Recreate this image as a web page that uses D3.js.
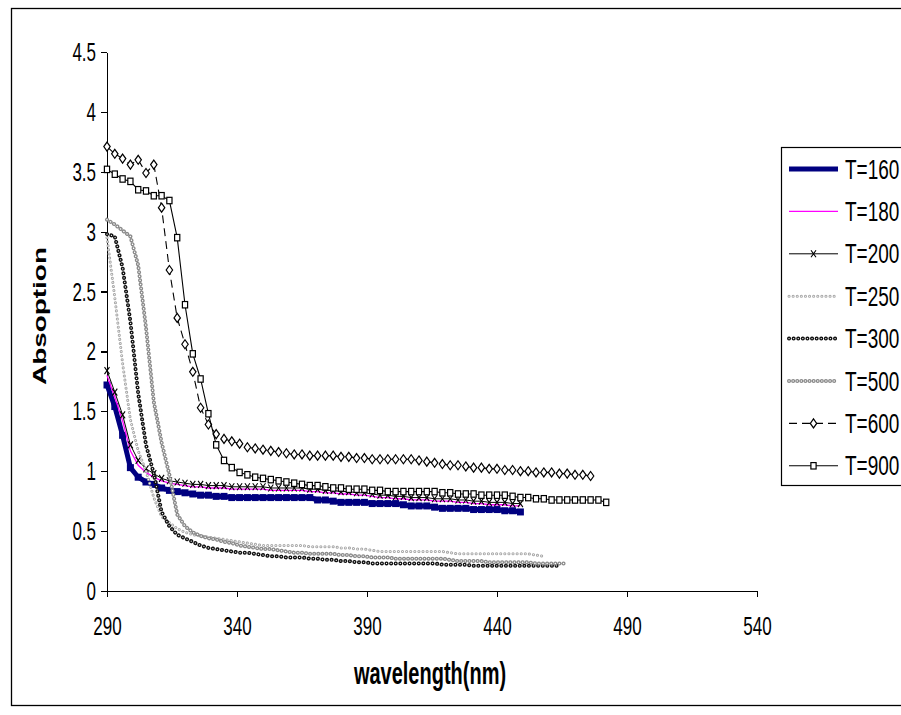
<!DOCTYPE html>
<html>
<head>
<meta charset="utf-8">
<script src="https://cdn.jsdelivr.net/npm/d3@7"></script>
<style>
body { margin: 0; background: #fff; }
text { font-family: "Liberation Sans", Arial, sans-serif; fill: #000; }
</style>
</head>
<body>
<script>
// wavelength grid (nm) and absorption
const wavelength = [290,293,296,299,302,305,308,311,314,317,320,323,326,329,332,335,338,341,344,347,
    350,353,356,359,362,365,368,371,374,377,380,383,386,389,392,395,398,401,404,407,
    410,413,416,419,422,425,428,431,434,437,440,443,446,449,452,455,458,461,464,467,
    470,473,476,479,482]

const absT160 = [1.72,1.54,1.30,1.03,0.95,0.91,0.89,0.86,0.84,0.83,0.82,0.81,0.80,0.80,0.79,0.79,0.78,0.78,0.78,0.78,
    0.78,0.78,0.78,0.78,0.78,0.78,0.78,0.76,0.76,0.75,0.74,0.74,0.74,0.74,0.73,0.73,0.73,0.73,0.72,0.71,
    0.71,0.71,0.70,0.69,0.69,0.69,0.69,0.68,0.68,0.68,0.68,0.67,0.67,0.66]
const absT180 = [1.80,1.62,1.42,1.17,1.05,0.99,0.95,0.92,0.90,0.89,0.88,0.87,0.87,0.86,0.86,0.86,0.85,0.85,0.85,0.85,
    0.85,0.84,0.84,0.84,0.84,0.84,0.83,0.83,0.82,0.82,0.81,0.81,0.80,0.80,0.79,0.78,0.78,0.77,0.77,0.76,
    0.76,0.76,0.75,0.75,0.75,0.74,0.74,0.73,0.73,0.72,0.72,0.72,0.71,0.71]
const absT200 = [1.84,1.66,1.47,1.22,1.09,1.02,0.98,0.94,0.92,0.91,0.90,0.89,0.89,0.88,0.88,0.88,0.87,0.87,0.87,0.87,
    0.87,0.86,0.86,0.86,0.86,0.86,0.85,0.85,0.84,0.84,0.83,0.83,0.82,0.82,0.81,0.80,0.80,0.79,0.79,0.78,
    0.78,0.78,0.77,0.77,0.77,0.76,0.76,0.75,0.75,0.74,0.74,0.74,0.73,0.73]
const absT250 = [2.95,2.45,1.90,1.43,1.17,1.00,0.78,0.62,0.57,0.52,0.49,0.47,0.46,0.45,0.44,0.43,0.42,0.41,0.40,0.39,
    0.38,0.38,0.38,0.38,0.38,0.38,0.37,0.37,0.37,0.37,0.36,0.36,0.35,0.35,0.34,0.33,0.33,0.33,0.33,0.33,
    0.33,0.33,0.33,0.33,0.32,0.31,0.31,0.31,0.31,0.31,0.31,0.31,0.31,0.31,0.31,0.30,0.29]
const absT300 = [2.98,2.96,2.70,2.25,1.65,1.22,0.98,0.66,0.54,0.47,0.44,0.41,0.38,0.36,0.35,0.34,0.33,0.32,0.32,0.31,
    0.30,0.29,0.29,0.28,0.28,0.28,0.27,0.27,0.26,0.26,0.25,0.25,0.24,0.24,0.23,0.23,0.23,0.23,0.23,0.23,
    0.23,0.23,0.23,0.22,0.22,0.22,0.22,0.21,0.21,0.21,0.21,0.21,0.21,0.21,0.21,0.21,0.21,0.21,0.21]
const absT500 = [3.10,3.06,3.01,2.96,2.72,2.20,1.58,1.24,0.97,0.64,0.54,0.49,0.46,0.44,0.43,0.41,0.40,0.38,0.37,0.36,
    0.35,0.35,0.34,0.33,0.32,0.32,0.31,0.31,0.31,0.31,0.30,0.30,0.29,0.29,0.28,0.28,0.28,0.27,0.27,0.27,
    0.27,0.27,0.27,0.27,0.26,0.25,0.25,0.25,0.25,0.24,0.24,0.24,0.24,0.24,0.24,0.23,0.23,0.23,0.23,0.23]
const absT600 = [3.71,3.65,3.61,3.56,3.60,3.49,3.56,3.20,2.68,2.28,2.06,1.83,1.53,1.39,1.31,1.27,1.25,1.23,1.20,1.19,
    1.18,1.17,1.16,1.15,1.14,1.14,1.13,1.13,1.13,1.13,1.12,1.12,1.11,1.11,1.10,1.10,1.10,1.10,1.10,1.10,
    1.09,1.08,1.07,1.06,1.05,1.05,1.04,1.03,1.03,1.02,1.02,1.01,1.01,1.00,1.00,0.99,0.99,0.99,0.98,0.98,
    0.97,0.97,0.96]
const absT900 = [3.52,3.48,3.44,3.42,3.35,3.34,3.30,3.30,3.26,2.95,2.39,1.98,1.77,1.48,1.22,1.09,1.03,0.99,0.97,0.95,
    0.94,0.93,0.92,0.91,0.90,0.89,0.88,0.88,0.87,0.86,0.86,0.85,0.85,0.85,0.84,0.84,0.83,0.83,0.83,0.83,
    0.83,0.83,0.83,0.82,0.82,0.81,0.81,0.81,0.80,0.80,0.80,0.80,0.79,0.78,0.78,0.77,0.77,0.76,0.76,0.76,
    0.76,0.76,0.76,0.76,0.74]

const seriesNames = ["T=160","T=180","T=200","T=250","T=300","T=500","T=600","T=900"]
const seriesValues = [absT160,absT180,absT200,absT250,absT300,absT500,absT600,absT900]

const xTicks = [290,340,390,440,490,540]
const yTicks = [0,0.5,1,1.5,2,2.5,3,3.5,4,4.5]

// how each series is drawn (Excel-like styles)
const styles = {
    "T=160": {color:"#000080", width:5, marker:"block"},
    "T=180": {color:"#ff00ff", width:1.3},
    "T=200": {color:"#000", width:1, marker:"x"},
    "T=250": {color:"#a8a8a8", width:3, bead:4, inner:1.1},
    "T=300": {color:"#111", width:4, bead:4.5, inner:1.2},
    "T=500": {color:"#8a8a8a", width:4, bead:4, inner:1.4},
    "T=600": {color:"#000", width:1.1, dash:"8,5", marker:"diamond"},
    "T=900": {color:"#000", width:1.1, marker:"square"}
}

const w = 901, h = 715
const k = 1.55   // the text in the picture is stretched vertically

let svg = d3.select("body").append("svg")
    .attr("width", w)
    .attr("height", h)

svg.append("rect")
    .attr("x", 11.5).attr("y", 8.5)
    .attr("width", 900).attr("height", 697)
    .attr("fill", "none").attr("stroke", "#000").attr("stroke-width", 1.3)

let x = d3.scaleLinear().domain([290, 540]).range([107, 757])
let y = d3.scaleLinear().domain([0, 4.5]).range([591, 52])

// axes
let yAxis = svg.append("g")
    .attr("transform", "translate(107,0)")
    .call(d3.axisLeft(y).tickValues(yTicks).tickSize(6).tickSizeOuter(0).tickPadding(5).tickFormat(d => String(d)))
let xAxis = svg.append("g")
    .attr("transform", "translate(0,591)")
    .call(d3.axisBottom(x).tickValues(xTicks).tickSize(6).tickSizeOuter(0).tickFormat(d => String(d)))

svg.selectAll(".domain, .tick line")
    .attr("stroke", "#000")
    .attr("stroke-width", 1.2)
    .attr("shape-rendering", "crispEdges")

yAxis.selectAll("text")
    .style("font-size", "17px")
    .attr("transform", "scale(1," + k + ")")
xAxis.selectAll("text")
    .style("font-size", "17px")
    .attr("y", 16)
    .attr("transform", "scale(1," + k + ")")
svg.selectAll(".tick text").attr("font-family", null).style("fill", "#000")

// series
let line = d3.line()
    .x(d => x(d.nm))
    .y(d => y(d.v))

let series = seriesNames.map((name, i) => ({
    name: name,
    points: seriesValues[i].map((v, j) => ({nm: wavelength[j], v: v}))
}))

function drawStroke(g, dAttr, s) {
    if (s.bead) {
        g.append("path").attr("d", dAttr)
            .attr("fill", "none").attr("stroke", s.color)
            .attr("stroke-width", s.width)
            .attr("stroke-linecap", "round")
            .attr("stroke-dasharray", "0.1," + s.bead)
        g.append("path").attr("d", dAttr)
            .attr("fill", "none").attr("stroke", "#fff")
            .attr("stroke-width", s.inner)
            .attr("stroke-linecap", "round")
            .attr("stroke-dasharray", "0.1," + s.bead)
    } else {
        g.append("path").attr("d", dAttr)
            .attr("fill", "none").attr("stroke", s.color)
            .attr("stroke-width", s.width)
            .attr("stroke-dasharray", s.dash || null)
    }
}

function drawMarkers(g, pts, s) {
    if (!s.marker) return
    let m = g.selectAll(".m").data(pts).enter().append("g")
        .attr("transform", p => "translate(" + p[0] + "," + p[1] + ")")
    if (s.marker === "x") {
        m.append("path").attr("d", "M-2.5,-3.5L2.5,3.5M-2.5,3.5L2.5,-3.5")
            .attr("stroke", "#000").attr("stroke-width", 1.1)
    } else if (s.marker === "diamond") {
        m.append("path").attr("d", "M0,-4.5L3.2,0L0,4.5L-3.2,0Z")
            .attr("fill", "#fff").attr("stroke", "#000").attr("stroke-width", 1.2)
    } else if (s.marker === "square") {
        m.append("rect").attr("x", -2.6).attr("y", -3.2).attr("width", 5.2).attr("height", 6.4)
            .attr("fill", "#fff").attr("stroke", "#000").attr("stroke-width", 1.2)
    } else if (s.marker === "block") {
        m.append("rect").attr("x", -3.5).attr("y", -3.5).attr("width", 7).attr("height", 7)
            .attr("fill", s.color)
    }
}

let plot = svg.append("g").attr("class", "series")
series.forEach(sr => {
    let s = styles[sr.name]
    let g = plot.append("g")
    drawStroke(g, line(sr.points), s)
    drawMarkers(g, sr.points.map(p => [x(p.nm), y(p.v)]), s)
})

// legend
let legend = svg.append("g")
legend.append("rect")
    .attr("x", 781.5).attr("y", 147.5)
    .attr("width", 130).attr("height", 338)
    .attr("fill", "#fff").attr("stroke", "#000").attr("stroke-width", 1.2)

seriesNames.forEach((name, i) => {
    let s = styles[name]
    let ly = 169 + i * 42.4
    let g = legend.append("g")
    drawStroke(g, "M789," + ly + "L838," + ly, s)
    if (s.marker && s.marker !== "block") drawMarkers(g, [[813.5, ly]], s)
    g.append("text")
        .attr("transform", "translate(845," + ly + ") scale(1,1.42)")
        .attr("y", 6.8)
        .style("font-size", "19px")
        .text(name)
})

// axis titles
svg.append("text")
    .attr("transform", "translate(430,684) scale(1," + k + ")")
    .attr("text-anchor", "middle")
    .style("font-size", "20px")
    .style("font-weight", "bold")
    .text("wavelength(nm)")

svg.append("text")
    .attr("transform", "translate(46,316) scale(1," + k + ") rotate(-90)")
    .attr("text-anchor", "middle")
    .style("font-size", "18px")
    .style("font-weight", "bold")
    .text("Absoption")
</script>
</body>
</html>
